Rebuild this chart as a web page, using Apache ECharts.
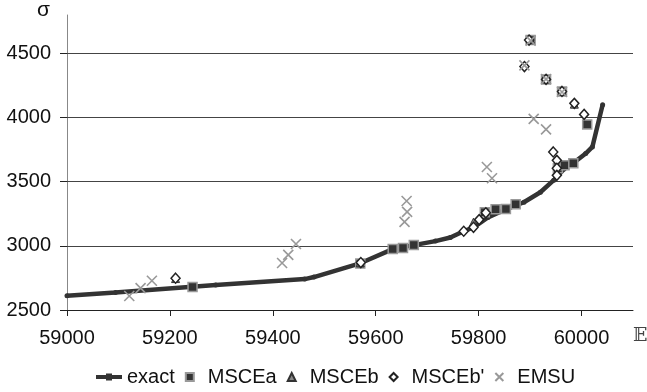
<!DOCTYPE html>
<html>
<head>
<meta charset="utf-8">
<script src="https://cdn.jsdelivr.net/npm/echarts@6/dist/echarts.min.js"></script>
<style>
  html, body { margin: 0; padding: 0; background: #ffffff; }
  #chart { width: 647px; height: 392px; }
</style>
</head>
<body>
<div id="chart"></div>
<script>
// Axis ticks
const xTicks = [59000, 59200, 59400, 59600, 59800, 60000];
const yTicks = [2500, 3000, 3500, 4000, 4500];
const gridValues = [3000, 3500, 4000, 4500];

// Exact solution curve [E, sigma]
const exact = [
  [59000, 2612], [59094, 2636], [59289, 2694], [59462, 2741], [59480, 2757],
  [59571, 2866], [59633, 2975], [59674, 3006], [59716, 3037], [59745, 3065],
  [59771, 3114], [59791, 3146], [59818, 3222], [59849, 3278], [59888, 3340],
  [59920, 3418], [59946, 3512], [59966, 3600], [59983, 3642], [60008, 3720],
  [60021, 3771], [60041, 4100]
];

// Approximation methods [E, sigma]
const msceA = [
  [59244, 2679], [59570, 2862], [59633, 2975], [59653, 2983], [59674, 3006],
  [59812, 3263], [59833, 3286], [59853, 3288], [59872, 3325], [59954, 3605],
  [59967, 3628], [59984, 3644], [60011, 3947], [59962, 4204], [59931, 4298],
  [59901, 4605]
];
const msceB = [
  [59211, 2745], [59570, 2868], [59790, 3185], [59986, 4105], [59962, 4206],
  [59931, 4302], [59901, 4607]
];
const msceBp = [
  [59211, 2748], [59571, 2870], [59771, 3114], [59790, 3145], [59801, 3205],
  [59814, 3258], [59945, 3732], [59952, 3667], [59952, 3605], [59952, 3550],
  [59986, 4111], [60005, 4025], [59962, 4204], [59931, 4298], [59889, 4398],
  [59898, 4605]
];
const emsu = [
  [59121, 2609], [59143, 2671], [59165, 2728], [59418, 2866], [59430, 2930],
  [59445, 3015], [59656, 3187], [59661, 3265], [59660, 3350], [59816, 3615],
  [59826, 3527], [59907, 3990], [59931, 3908], [59889, 4407], [59901, 4600],
  [59931, 4300], [59962, 4200]
];

const FONT = 'Liberation Sans, Arial, sans-serif';
const crossPath = 'path://M0,0L8,8M8,0L0,8';
const plain = v => String(v);

const chart = echarts.init(document.getElementById('chart'), null, { renderer: 'canvas' });

chart.setOption({
  animation: false,
  backgroundColor: '#ffffff',
  textStyle: { fontFamily: FONT },
  grid: { left: 67, right: 14, top: 15, bottom: 82, containLabel: false },
  xAxis: {
    type: 'value',
    min: 59000,
    max: 60100,
    axisLine: { show: true, onZero: false, lineStyle: { color: '#222', width: 1 } },
    axisTick: { show: true, inside: false, length: 6, customValues: xTicks, lineStyle: { color: '#222' } },
    axisLabel: { customValues: xTicks, formatter: plain, margin: 18, fontSize: 20, color: '#111', fontFamily: FONT },
    splitLine: { show: false }
  },
  yAxis: {
    type: 'value',
    min: 2500,
    max: 4800,
    axisLine: { show: true, onZero: false, lineStyle: { color: '#888', width: 1 } },
    axisTick: { show: true, inside: false, length: 7, customValues: yTicks, lineStyle: { color: '#222' } },
    axisLabel: { customValues: yTicks, formatter: plain, margin: 16, fontSize: 20, color: '#111', fontFamily: FONT },
    splitLine: { show: false }
  },
  legend: {
    left: 91,
    top: 362,
    orient: 'horizontal',
    itemWidth: 26,
    itemHeight: 8,
    itemGap: 10,
    textStyle: { fontSize: 20, color: '#111', fontFamily: FONT },
    data: [
      { name: 'exact', icon: 'path://M0,2H26V6H0Z M10,0.5H16V7.5H10Z' },
      { name: 'MSCEa', icon: 'path://M0,0H8V8H0Z' },
      { name: 'MSCEb', icon: 'path://M4,0L8,8H0Z' },
      { name: "MSCEb'", icon: 'path://M4,0L8,4L4,8L0,4Z' },
      { name: 'EMSU', icon: crossPath }
    ]
  },
  graphic: [
    {
      type: 'text', left: 37, top: 0,
      style: { text: 'σ', fontSize: 21, fill: '#111', fontFamily: FONT }
    },
    {
      type: 'text', left: 633, top: 327,
      style: { text: '𝔼', fontSize: 19, fill: '#444', fontFamily: 'DejaVu Serif, DejaVu Sans, serif' }
    }
  ],
  series: [
    {
      name: 'exact',
      type: 'line',
      data: exact,
      z: 3,
      symbol: 'circle',
      symbolSize: 5,
      showSymbol: true,
      lineStyle: { color: '#333', width: 4.5 },
      itemStyle: { color: '#333' },
      markLine: {
        silent: true,
        z: 1,
        symbol: ['none', 'none'],
        label: { show: false },
        lineStyle: { color: '#444', type: 'solid', width: 1 },
        data: gridValues.map(v => ({ yAxis: v }))
      }
    },
    {
      name: 'MSCEa',
      type: 'scatter',
      data: msceA,
      z: 4,
      symbol: 'rect',
      symbolSize: 9,
      itemStyle: { color: '#333', borderColor: '#999', borderWidth: 1.5, opacity: 1 }
    },
    {
      name: 'MSCEb',
      type: 'scatter',
      data: msceB,
      z: 5,
      symbol: 'triangle',
      symbolSize: 8,
      itemStyle: { color: '#888', borderColor: '#333', borderWidth: 1, opacity: 1 }
    },
    {
      name: "MSCEb'",
      type: 'scatter',
      data: msceBp,
      z: 6,
      symbol: 'diamond',
      symbolSize: [9, 10],
      itemStyle: { color: '#ffffff', borderColor: '#222', borderWidth: 1.5, opacity: 1 }
    },
    {
      name: 'EMSU',
      type: 'scatter',
      data: emsu,
      z: 7,
      symbol: crossPath,
      symbolSize: 10,
      itemStyle: { color: 'transparent', borderColor: '#999', borderWidth: 1.6, opacity: 1 }
    }
  ]
});
</script>
</body>
</html>
